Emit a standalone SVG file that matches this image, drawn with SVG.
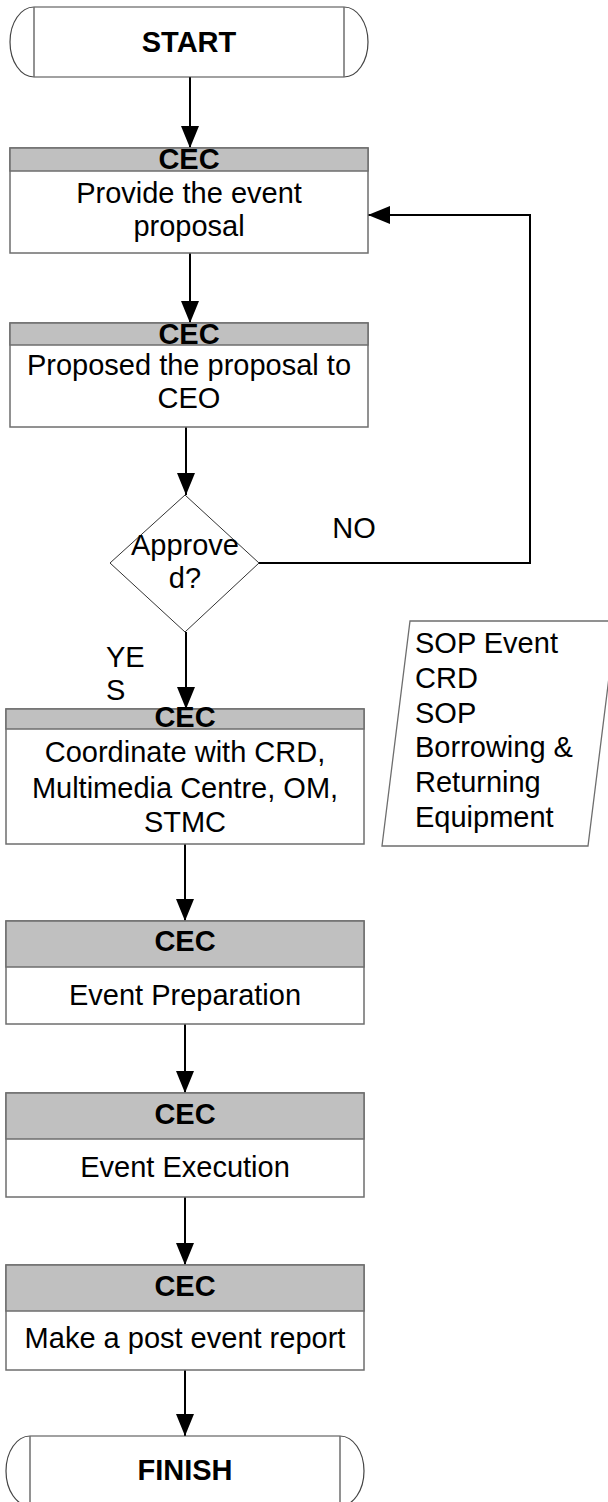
<svg xmlns="http://www.w3.org/2000/svg" width="608" height="1502" viewBox="0 0 608 1502">
<style>
text{font-family:"Liberation Sans",Arial,sans-serif;font-size:29px;fill:#000;text-anchor:middle}
.b{font-weight:bold}
.l{text-anchor:start}
.box{fill:#fff;stroke:#6e6e6e;stroke-width:1.5}
.hdr{fill:#c0c0c0;stroke:#6e6e6e;stroke-width:1.5}
.term{fill:#fff;stroke:#444;stroke-width:1.2}
.tl{stroke:#6e6e6e;stroke-width:1.5}
.dia{fill:#fff;stroke:#333;stroke-width:1}
.par{fill:#fff;stroke:#6e6e6e;stroke-width:1.3}
.c{fill:none;stroke:#000;stroke-width:2}
</style>
<defs>
<marker id="ah" markerUnits="userSpaceOnUse" markerWidth="22" markerHeight="18" refX="22" refY="9" orient="auto">
<path d="M0,0 L22,9 L0,18 Z" fill="#000"/>
</marker>
</defs>
<g id="connectors">
<line class="c" x1="190" y1="77" x2="190" y2="148" marker-end="url(#ah)"/>
<line class="c" x1="190" y1="253" x2="190" y2="323" marker-end="url(#ah)"/>
<line class="c" x1="186" y1="427" x2="186" y2="495" marker-end="url(#ah)"/>
<polyline class="c" points="259,563 530,563 530,215 368,215" marker-end="url(#ah)"/>
<line class="c" x1="186" y1="632" x2="186" y2="709" marker-end="url(#ah)"/>
<line class="c" x1="185" y1="844" x2="185" y2="921" marker-end="url(#ah)"/>
<line class="c" x1="185" y1="1024" x2="185" y2="1093" marker-end="url(#ah)"/>
<line class="c" x1="185" y1="1197" x2="185" y2="1265" marker-end="url(#ah)"/>
<line class="c" x1="185" y1="1370" x2="185" y2="1436" marker-end="url(#ah)"/>
<text x="354" y="538">NO</text>
<text class="l" x="106" y="667">YE</text>
<text class="l" x="106" y="700">S</text>
</g>
<g id="start">
<path class="term" d="M34,7 L344,7 A24,35 0 0 1 344,77 L34,77 A24,35 0 0 1 34,7 Z"/>
<line class="tl" x1="34" y1="7" x2="34" y2="77"/>
<line class="tl" x1="344" y1="7" x2="344" y2="77"/>
<text class="b" x="189" y="52">START</text>
</g>
<g id="provide">
<rect class="box" x="10" y="148" width="358" height="105"/>
<rect class="hdr" x="10" y="148" width="358" height="23"/>
<text class="b" x="189" y="169">CEC</text>
<text x="189" y="203">Provide the event</text>
<text x="189" y="236">proposal</text>
</g>
<g id="proposed">
<rect class="box" x="10" y="323" width="358" height="104"/>
<rect class="hdr" x="10" y="323" width="358" height="22"/>
<text class="b" x="189" y="344">CEC</text>
<text x="189" y="375">Proposed the proposal to</text>
<text x="189" y="408">CEO</text>
</g>
<g id="approved">
<polygon class="dia" points="185,495 259,563 185,632 110,563"/>
<text x="185" y="555">Approve</text>
<text x="185" y="588">d?</text>
</g>
<g id="sop">
<polygon class="par" points="410,621 616,621 588,846 382,846"/>
<text class="l" x="415" y="653">SOP Event</text>
<text class="l" x="415" y="688">CRD</text>
<text class="l" x="415" y="723">SOP</text>
<text class="l" x="415" y="757">Borrowing &amp;</text>
<text class="l" x="415" y="792">Returning</text>
<text class="l" x="415" y="827">Equipment</text>
</g>
<g id="coordinate">
<rect class="box" x="6" y="709" width="358" height="135"/>
<rect class="hdr" x="6" y="709" width="358" height="20"/>
<text class="b" x="185" y="727">CEC</text>
<text x="185" y="762">Coordinate with CRD,</text>
<text x="185" y="798">Multimedia Centre, OM,</text>
<text x="185" y="832">STMC</text>
</g>
<g id="preparation">
<rect class="box" x="6" y="921" width="358" height="103"/>
<rect class="hdr" x="6" y="921" width="358" height="46"/>
<text class="b" x="185" y="951">CEC</text>
<text x="185" y="1005">Event Preparation</text>
</g>
<g id="execution">
<rect class="box" x="6" y="1093" width="358" height="104"/>
<rect class="hdr" x="6" y="1093" width="358" height="46"/>
<text class="b" x="185" y="1124">CEC</text>
<text x="185" y="1177">Event Execution</text>
</g>
<g id="report">
<rect class="box" x="6" y="1265" width="358" height="105"/>
<rect class="hdr" x="6" y="1265" width="358" height="46"/>
<text class="b" x="185" y="1296">CEC</text>
<text x="185" y="1348">Make a post event report</text>
</g>
<g id="finish">
<path class="term" d="M30,1436 L340,1436 A24,35 0 0 1 340,1506 L30,1506 A24,35 0 0 1 30,1436 Z"/>
<line class="tl" x1="30" y1="1436" x2="30" y2="1506"/>
<line class="tl" x1="340" y1="1436" x2="340" y2="1506"/>
<text class="b" x="185" y="1480">FINISH</text>
</g>
</svg>
